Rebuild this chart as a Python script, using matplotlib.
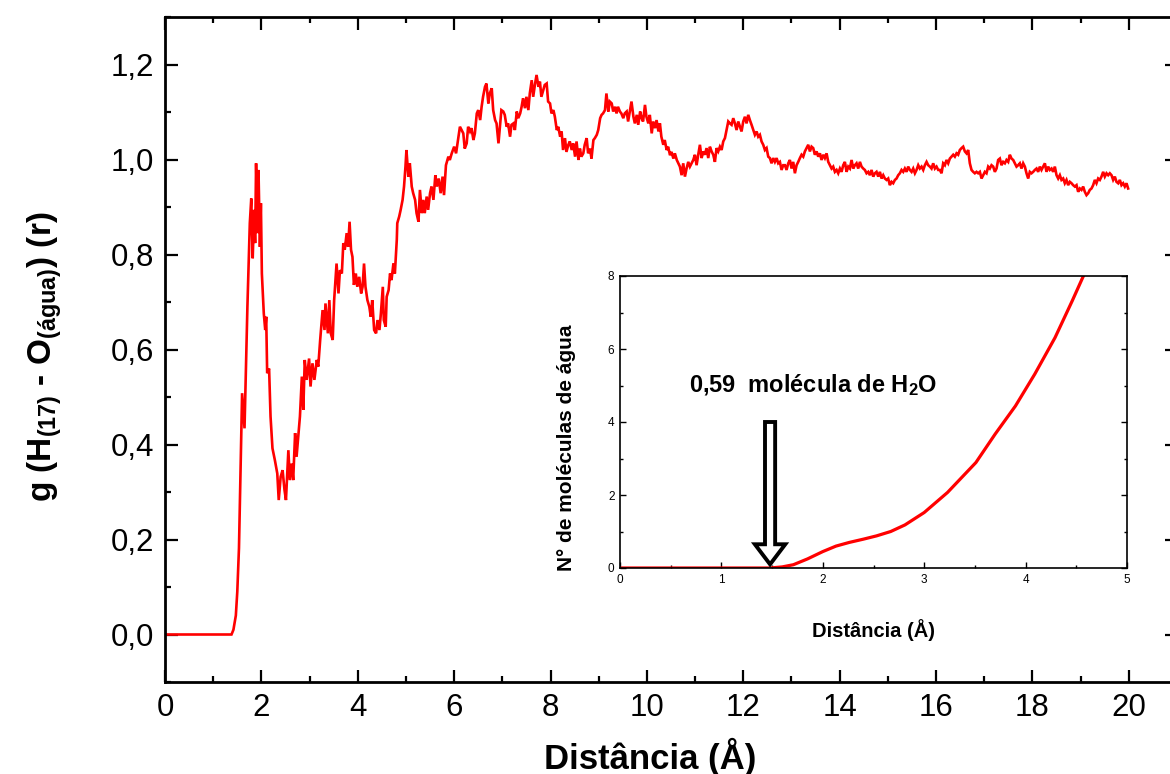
import matplotlib
matplotlib.use('Agg')
import matplotlib.pyplot as plt
from matplotlib.ticker import MultipleLocator
from matplotlib.patches import FancyArrow

plt.rcParams['font.family'] = ['Liberation Sans', 'DejaVu Sans']
plt.rcParams['mathtext.fontset'] = 'custom'
plt.rcParams['mathtext.rm'] = 'Liberation Sans'
plt.rcParams['mathtext.bf'] = 'Liberation Sans:bold'
plt.rcParams['mathtext.it'] = 'Liberation Sans:italic'

# ---------------- main g(r) data ----------------
r1 = [0.0, 1.30, 1.38, 1.42, 1.47, 1.50, 1.535, 1.60, 1.65, 1.68, 1.71, 1.74, 1.76, 1.79, 1.82, 1.85,
      1.87, 1.89, 1.92, 1.94, 1.97, 1.99, 2.01, 2.05, 2.08, 2.10, 2.12, 2.16, 2.19, 2.23, 2.28, 2.33,
      2.36, 2.40, 2.44, 2.48, 2.51, 2.56, 2.59, 2.63, 2.66, 2.70, 2.73, 2.77, 2.80, 2.84, 2.87, 2.90,
      2.94, 2.99]
g1 = [0.0, 0.0, 0.0, 0.01, 0.04, 0.09, 0.182, 0.508, 0.434, 0.564, 0.69, 0.795, 0.866, 0.918, 0.792, 0.894,
      0.824, 0.992, 0.845, 0.978, 0.816, 0.908, 0.760, 0.676, 0.641, 0.669, 0.55, 0.56, 0.459, 0.392, 0.367, 0.339,
      0.283, 0.332, 0.346, 0.304, 0.283, 0.388, 0.325, 0.36, 0.325, 0.424, 0.374, 0.424, 0.459, 0.543, 0.473, 0.578,
      0.536, 0.581]

r2 = [3.02, 3.06, 3.10, 3.15, 3.18, 3.22, 3.27, 3.31, 3.33, 3.38,
      3.41, 3.44, 3.48, 3.51, 3.56, 3.60, 3.63, 3.67, 3.70, 3.73,
      3.77, 3.80, 3.83, 3.86, 3.89, 3.92, 3.96, 3.99, 4.03, 4.07,
      4.10, 4.13, 4.16, 4.20, 4.24, 4.27, 4.30, 4.34, 4.38, 4.41,
      4.45, 4.48, 4.52, 4.54, 4.58, 4.60, 4.64, 4.67, 4.70, 4.74,
      4.77, 4.81, 4.82, 4.86, 4.89, 4.93, 4.96, 4.99, 5.01, 5.05,
      5.08, 5.12, 5.15, 5.19, 5.22, 5.26, 5.29, 5.33, 5.36, 5.39,
      5.43, 5.46, 5.50, 5.53, 5.57, 5.61, 5.64, 5.68, 5.72, 5.76,
      5.79, 5.83, 5.88, 5.91, 5.95, 6.00, 6.04, 6.07]
g2 = [0.522, 0.571, 0.536, 0.578, 0.564, 0.62, 0.683, 0.641, 0.697, 0.634,
      0.704, 0.634, 0.62, 0.704, 0.781, 0.718, 0.767, 0.760, 0.824, 0.81,
      0.845, 0.816, 0.869, 0.81, 0.795, 0.736, 0.760, 0.732, 0.753, 0.718,
      0.732, 0.781, 0.732, 0.704, 0.69, 0.669, 0.704, 0.641, 0.634, 0.662,
      0.641, 0.676, 0.732, 0.662, 0.648, 0.711, 0.725, 0.760, 0.746, 0.781,
      0.760, 0.831, 0.866, 0.880, 0.894, 0.915, 0.943, 0.985, 1.02, 0.964,
      0.992, 0.943, 0.929, 0.915, 0.887, 0.869, 0.936, 0.887, 0.915, 0.887,
      0.922, 0.894, 0.929, 0.943, 0.915, 0.967, 0.943, 0.96, 0.929, 0.964,
      0.925, 0.988, 1.006, 0.999, 1.013, 1.027, 1.013, 1.034]

r3 = [6.12, 6.19, 6.22, 6.26, 6.29, 6.33, 6.36, 6.40, 6.43, 6.47,
      6.50, 6.54, 6.57, 6.60, 6.64, 6.67, 6.71, 6.74, 6.78, 6.81,
      6.85, 6.88, 6.92, 6.95, 6.98, 7.02, 7.05, 7.09, 7.12, 7.16,
      7.19, 7.23, 7.26, 7.30, 7.33, 7.37, 7.40, 7.43, 7.47, 7.50,
      7.54, 7.57, 7.61, 7.64, 7.68, 7.71, 7.75, 7.78, 7.81, 7.85,
      7.88, 7.92, 7.95, 7.99, 8.02, 8.06, 8.09, 8.13, 8.16, 8.20,
      8.23, 8.26, 8.30, 8.33, 8.37, 8.40, 8.44, 8.47, 8.51, 8.54,
      8.58, 8.61, 8.64, 8.68, 8.71, 8.75, 8.78, 8.82, 8.85, 8.89,
      8.92, 8.96, 8.99, 9.03, 9.06, 9.09, 9.13, 9.16, 9.20, 9.23,
      9.27, 9.30, 9.34, 9.37, 9.40, 9.44, 9.47, 9.51, 9.54, 9.58,
      9.61, 9.65, 9.68, 9.72, 9.75, 9.79, 9.82, 9.86, 9.89, 9.92,
      9.96, 9.99, 10.03, 10.06, 10.10, 10.13, 10.17, 10.20, 10.24, 10.27,
      10.30, 10.34, 10.37, 10.41, 10.44, 10.48, 10.51, 10.55, 10.58, 10.62]
g3 = [1.069, 1.055, 1.023, 1.034, 1.069, 1.059, 1.066, 1.041, 1.055, 1.097,
      1.104, 1.083, 1.111, 1.132, 1.153, 1.160, 1.118, 1.139, 1.150, 1.104,
      1.083, 1.076, 1.034, 1.069, 1.104, 1.101, 1.094, 1.069, 1.076, 1.048,
      1.073, 1.076, 1.062, 1.101, 1.087, 1.097, 1.111, 1.129, 1.108, 1.132,
      1.104, 1.139, 1.167, 1.132, 1.160, 1.178, 1.153, 1.164, 1.132, 1.146,
      1.157, 1.160, 1.122, 1.118, 1.097, 1.104, 1.090, 1.062, 1.069, 1.048,
      1.059, 1.020, 1.045, 1.016, 1.031, 1.038, 1.020, 1.034, 1.006, 1.038,
      0.999, 1.023, 1.006, 1.013, 1.031, 1.045, 1.013, 1.023, 1.002, 1.041,
      1.045, 1.052, 1.062, 1.087, 1.094, 1.097, 1.104, 1.139, 1.101, 1.122,
      1.118, 1.101, 1.111, 1.097, 1.111, 1.101, 1.097, 1.087, 1.097, 1.101,
      1.080, 1.104, 1.122, 1.090, 1.076, 1.094, 1.073, 1.101, 1.087, 1.080,
      1.115, 1.090, 1.076, 1.094, 1.055, 1.080, 1.066, 1.083, 1.059, 1.076,
      1.048, 1.031, 1.041, 1.020, 1.027, 1.009, 1.016, 1.002, 1.013, 0.999]

r4 = [10.685, 10.720, 10.754, 10.789, 10.823, 10.858, 10.892, 10.927, 10.962, 10.996,
      11.031, 11.065, 11.100, 11.135, 11.169, 11.204, 11.238, 11.273, 11.307, 11.342,
      11.377, 11.411, 11.446, 11.480, 11.515, 11.550, 11.584, 11.619, 11.653, 11.688,
      11.722, 11.757, 11.792, 11.826, 11.861, 11.895, 11.930, 11.964, 11.999, 12.034,
      12.068, 12.103, 12.137, 12.172, 12.207, 12.241, 12.276, 12.310, 12.345, 12.379,
      12.414, 12.449, 12.483, 12.518, 12.552, 12.587, 12.621, 12.656, 12.691, 12.725,
      12.760, 12.794, 12.829, 12.864, 12.898, 12.933, 12.967, 13.002, 13.036, 13.071,
      13.106, 13.140, 13.175, 13.209, 13.244, 13.278, 13.313, 13.348, 13.382, 13.417,
      13.451, 13.486, 13.521, 13.555, 13.590, 13.624, 13.659, 13.693, 13.728, 13.763,
      13.797, 13.832, 13.866, 13.901, 13.936, 13.970, 14.005, 14.039, 14.074, 14.108,
      14.143, 14.178, 14.212, 14.247, 14.281, 14.316, 14.350, 14.385, 14.420, 14.454,
      14.489, 14.523, 14.558, 14.593, 14.627, 14.662, 14.696, 14.731, 14.765, 14.800,
      14.835, 14.869, 14.904, 14.938, 14.973, 15.007, 15.042, 15.077, 15.111, 15.146,
      15.180, 15.215, 15.249, 15.284, 15.319, 15.353, 15.388, 15.422, 15.457, 15.492,
      15.526, 15.561, 15.595, 15.630, 15.664, 15.699, 15.734, 15.768, 15.803, 15.837,
      15.872, 15.906, 15.941, 15.976, 16.010, 16.045]
g4 = [0.985, 0.967, 0.992, 0.964, 0.981, 0.995, 0.985, 0.992, 0.999, 1.010,
      0.988, 1.010, 1.031, 1.003, 1.017, 1.010, 1.024, 1.003, 1.027, 1.017,
      1.010, 0.995, 1.024, 1.017, 1.027, 1.020, 1.038, 1.045, 1.062, 1.080,
      1.076, 1.073, 1.087, 1.076, 1.062, 1.080, 1.069, 1.059, 1.080, 1.090,
      1.076, 1.094, 1.083, 1.073, 1.062, 1.052, 1.059, 1.048, 1.052, 1.038,
      1.031, 1.020, 1.024, 1.006, 1.003, 0.992, 1.003, 0.995, 1.003, 0.992,
      0.995, 0.978, 0.988, 0.988, 0.978, 0.992, 0.999, 0.981, 0.995, 0.971,
      0.988, 0.995, 1.003, 1.010, 1.006, 1.017, 1.024, 1.031, 1.017, 1.027,
      1.024, 1.010, 1.017, 1.006, 1.013, 0.999, 1.010, 1.003, 1.013, 0.995,
      0.988, 0.981, 0.985, 0.974, 0.978, 0.971, 0.981, 0.974, 0.988, 0.995,
      0.974, 0.985, 0.981, 0.999, 0.981, 0.988, 0.992, 0.981, 0.995, 0.985,
      0.981, 0.978, 0.971, 0.974, 0.967, 0.978, 0.964, 0.971, 0.974, 0.964,
      0.974, 0.960, 0.967, 0.960, 0.957, 0.960, 0.946, 0.953, 0.950, 0.957,
      0.960, 0.967, 0.971, 0.978, 0.974, 0.981, 0.974, 0.985, 0.978, 0.974,
      0.981, 0.971, 0.978, 0.988, 0.981, 0.985, 0.978, 0.988, 0.995, 0.988,
      0.985, 0.981, 0.992, 0.981, 0.985, 0.978]

r5 = [16.079, 16.114, 16.148, 16.183, 16.217, 16.252, 16.286, 16.321, 16.356, 16.390,
      16.425, 16.459, 16.494, 16.529, 16.563, 16.598, 16.632, 16.667, 16.701, 16.736,
      16.771, 16.805, 16.840, 16.874, 16.909, 16.944, 16.978, 17.013, 17.047, 17.082,
      17.116, 17.151, 17.186, 17.220, 17.255, 17.289, 17.324, 17.358, 17.393, 17.428,
      17.462, 17.497, 17.531, 17.566, 17.601, 17.635, 17.670, 17.704, 17.739, 17.773,
      17.808, 17.843, 17.877, 17.912, 17.946, 17.981, 18.015, 18.050, 18.085, 18.119,
      18.154, 18.188, 18.223, 18.258, 18.292, 18.327, 18.361, 18.396, 18.430, 18.465,
      18.500, 18.534, 18.569, 18.603, 18.638, 18.672, 18.707, 18.742, 18.776, 18.811,
      18.845, 18.880, 18.915, 18.949, 18.984, 19.018, 19.053, 19.087, 19.122, 19.157,
      19.191, 19.226, 19.260, 19.295, 19.329, 19.364, 19.399, 19.433, 19.468, 19.502,
      19.537, 19.572, 19.606, 19.641, 19.675, 19.710, 19.744, 19.779, 19.814, 19.848,
      19.883, 19.917, 19.952, 19.986]
g5 = [0.978, 0.971, 0.992, 0.988, 0.999, 0.992, 1.002, 1.006, 1.010, 1.006,
      1.013, 1.010, 1.020, 1.024, 1.027, 1.017, 1.013, 1.020, 0.992, 0.978,
      0.974, 0.971, 0.974, 0.971, 0.974, 0.960, 0.967, 0.974, 0.971, 0.985,
      0.981, 0.988, 0.985, 0.974, 0.981, 0.999, 1.002, 0.988, 0.995, 0.992,
      0.999, 0.995, 1.010, 1.002, 0.999, 0.992, 0.985, 0.988, 0.992, 0.981,
      0.992, 0.985, 0.971, 0.960, 0.974, 0.971, 0.974, 0.978, 0.981, 0.974,
      0.985, 0.978, 0.985, 0.992, 0.974, 0.985, 0.978, 0.981, 0.974, 0.985,
      0.967, 0.960, 0.967, 0.957, 0.960, 0.950, 0.957, 0.946, 0.953, 0.950,
      0.946, 0.943, 0.946, 0.932, 0.939, 0.936, 0.943, 0.932, 0.925, 0.929,
      0.936, 0.939, 0.946, 0.957, 0.950, 0.960, 0.957, 0.964, 0.974, 0.964,
      0.971, 0.967, 0.971, 0.967, 0.957, 0.964, 0.953, 0.950, 0.957, 0.946,
      0.950, 0.943, 0.950, 0.939]

# ---------------- inset: coordination number ----------------
r_cn = [0.0, 1.0, 1.48, 1.60, 1.71, 1.85, 2.0, 2.13, 2.26, 2.40, 2.53, 2.67, 2.81, 3.0,
        3.23, 3.51, 3.70, 3.90, 4.09, 4.29, 4.46, 4.57, 4.65]
n_cn = [0.0, 0.0, 0.0, 0.03, 0.09, 0.25, 0.45, 0.60, 0.70, 0.79, 0.88, 1.0, 1.18, 1.52,
        2.07, 2.89, 3.67, 4.44, 5.31, 6.31, 7.32, 8.0, 8.5]

x_ticks = [0, 2, 4, 6, 8, 10, 12, 14, 16, 18, 20]
y_ticks = [0.0, 0.2, 0.4, 0.6, 0.8, 1.0, 1.2]
y_ticklabels = ['0,0', '0,2', '0,4', '0,6', '0,8', '1,0', '1,2']
inset_xticks = [0, 1, 2, 3, 4, 5]
inset_yticks = [0, 2, 4, 6, 8]

# annotation (arrow pointing at r = 1.48 on the inset axis)
arrow_x, arrow_top, arrow_tip = 1.48, 4.0, 0.10

r_all = r1 + r2 + r3 + r4 + r5
g_all = g1 + g2 + g3 + g4 + g5

W, H = 1170, 774
fig = plt.figure(figsize=(W / 100, H / 100), dpi=100)

ax = fig.add_axes([165 / W, 92 / H, 1012 / W, 665 / H])
ax.plot(r_all, g_all, color='#ff0000', lw=1.9, solid_joinstyle='miter')
ax.set_xlim(0, 21)
ax.set_ylim(-0.1, 1.3)
ax.set_xticks(x_ticks)
ax.set_yticks(y_ticks)
ax.set_yticklabels(y_ticklabels)
ax.xaxis.set_minor_locator(MultipleLocator(1))
ax.yaxis.set_minor_locator(MultipleLocator(0.1))
ax.tick_params(which='both', direction='in', top=True, right=True, width=1.6,
               labelsize=22.5, pad=8)
ax.tick_params(which='major', length=9)
ax.tick_params(which='minor', length=4.5)
for s in ax.spines.values():
    s.set_linewidth(2.0)

fig.text(650 / W, 1 - 757 / H, 'Distância (Å)', fontsize=25, fontweight='bold',
         ha='center', va='center')
fig.text(45 / W, 1 - 357 / H,
         r'g (H$_{\mathbf{(17)}}$ - O$_{\mathbf{(água)}}$) (r)',
         fontsize=24, fontweight='bold', rotation=90, ha='center', va='center')

# inset
axin = fig.add_axes([620 / W, 206 / H, 507 / W, 292 / H])
axin.plot(r_cn, n_cn, color='#ff0000', lw=2.3)
axin.set_xlim(0, 5)
axin.set_ylim(0, 8)
axin.set_xticks(inset_xticks)
axin.set_yticks(inset_yticks)
axin.xaxis.set_minor_locator(MultipleLocator(0.5))
axin.yaxis.set_minor_locator(MultipleLocator(1))
axin.tick_params(which='both', direction='in', top=False, right=True, width=1.0,
                 labelsize=8.5, pad=4)
axin.tick_params(which='major', length=4)
axin.tick_params(which='minor', length=2.5)
for s in axin.spines.values():
    s.set_linewidth(1.2)

fig.text(873 / W, 1 - 630 / H, 'Distância (Å)', fontsize=14.5, fontweight='bold',
         ha='center', va='center')
fig.text(566 / W, 1 - 448 / H, 'N° de moléculas de água', fontsize=15, fontweight='bold',
         rotation=90, ha='center', va='center')
fig.text(813 / W, 1 - 385 / H, r'$\mathbf{0{,}59\ \ molécula\ de\ H_2O}$', fontsize=17,
         ha='center', va='center')

arr = FancyArrow(arrow_x, arrow_top, 0, arrow_tip - arrow_top, width=0.10, head_width=0.30,
                 head_length=0.55, length_includes_head=True, facecolor='white',
                 edgecolor='black', linewidth=2.8, joinstyle='miter', zorder=5, clip_on=False)
axin.add_patch(arr)

fig.savefig('out.png', dpi=100)
